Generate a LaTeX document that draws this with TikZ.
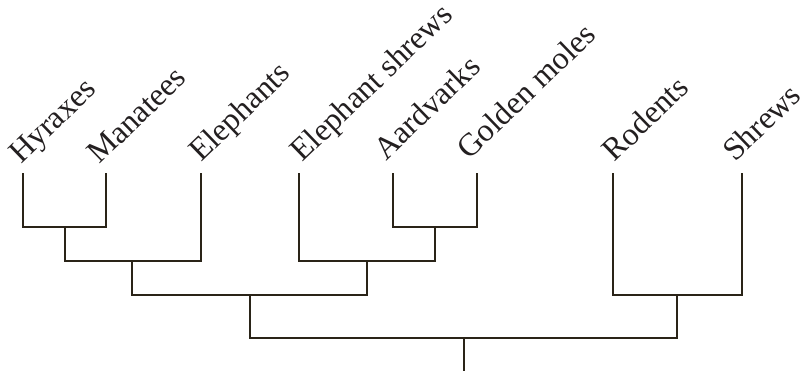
\documentclass[tikz,border=0pt]{standalone}
\usepackage{fontspec}
\setmainfont{Liberation Serif}
\definecolor{linecol}{HTML}{2A2418}
\definecolor{txtcol}{HTML}{231F20}
\begin{document}
\begin{tikzpicture}[x=1pt,y=-1pt,
  branch/.style={draw=linecol,line width=2pt,line join=miter,line cap=rect},
  taxon/.style={anchor=base west,rotate=44,inner sep=0pt,text=txtcol,
    font=\fontsize{32}{38}\selectfont}]
\useasboundingbox (0,0) rectangle (801,371);
% leaf tips
\coordinate (lH) at (22.7,174);
\coordinate (lM) at (106.3,174);
\coordinate (lE) at (200.5,174);
\coordinate (lES) at (299.3,174);
\coordinate (lA) at (392.5,174);
\coordinate (lG) at (476.5,174);
\coordinate (lR) at (613.3,174);
\coordinate (lS) at (741.5,174);
% internal nodes
\coordinate (n1) at (64.5,226.7);
\coordinate (n2) at (132.4,261);
\coordinate (n3) at (434.5,226.7);
\coordinate (n4) at (366.9,261);
\coordinate (n5) at (249.6,295.3);
\coordinate (n6) at (677.4,295.3);
\coordinate (n7) at (463.5,338.3);
\coordinate (root) at (463.5,371);
% labels
\node[taxon] (tH) at (21,165) {Hyraxes};
\node[taxon] (tM) at (99.5,165) {Manatees};
\node[taxon] (tE) at (201,163) {Elephants};
\node[taxon] (tES) at (302.5,163) {Elephant shrews};
\node[taxon] (tA) at (386,162) {Aardvarks};
\node[taxon] (tG) at (469,161) {Golden moles};
\node[taxon] (tR) at (614.5,163) {Rodents};
\node[taxon] (tS) at (735,163) {Shrews};
% branches
\draw[branch] (lH) |- (n1) -| (lM);
\draw[branch] (n1) |- (n2) -| (lE);
\draw[branch] (lA) |- (n3) -| (lG);
\draw[branch] (lES) |- (n4) -| (n3);
\draw[branch] (n2) |- (n5) -| (n4);
\draw[branch] (lR) |- (n6) -| (lS);
\draw[branch] (n5) |- (n7) -| (n6);
\draw[branch] (n7) -- (root);
\end{tikzpicture}
\end{document}
